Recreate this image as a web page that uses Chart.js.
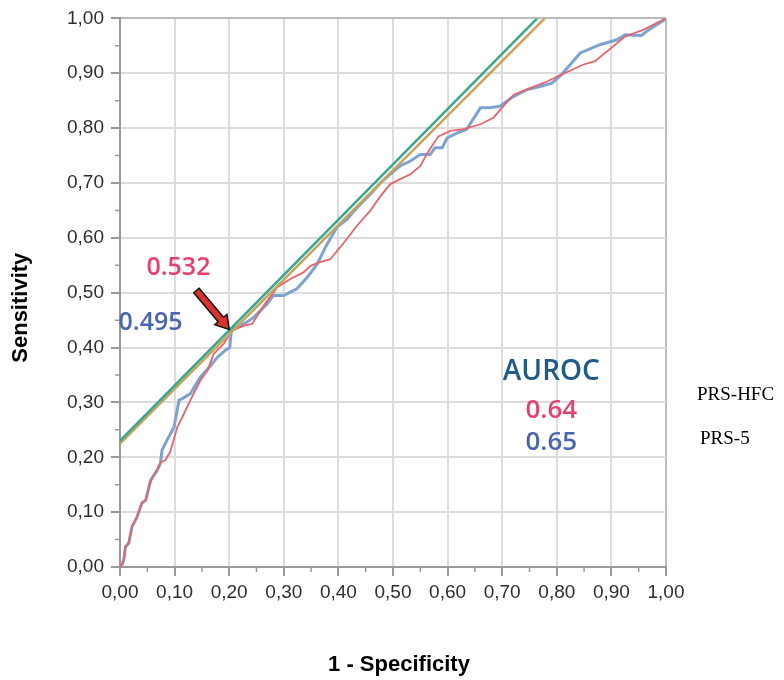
<!DOCTYPE html>
<html>
<head>
<meta charset="utf-8">
<script src="https://cdn.jsdelivr.net/npm/chart.js@4.4.1/dist/chart.umd.min.js"></script>
<style>
  html, body { margin: 0; padding: 0; background: #fff; }
  #wrap { width: 784px; height: 680px; }
</style>
</head>
<body>
<div id="wrap"><canvas id="rocChart" width="784" height="680"></canvas></div>
<script>
// ROC curves (1 - specificity, sensitivity)
var prs5Fpr = [0, 0.004, 0.007, 0.010, 0.016, 0.022, 0.031, 0.040, 0.047, 0.056, 0.068, 0.074, 0.077, 0.086, 0.099, 0.108, 0.114, 0.129, 0.147, 0.166, 0.178, 0.193, 0.201, 0.203, 0.205, 0.227, 0.245, 0.269, 0.281, 0.300, 0.324, 0.343, 0.361, 0.379, 0.397, 0.416, 0.434, 0.458, 0.477, 0.495, 0.513, 0.532, 0.550, 0.568, 0.577, 0.590, 0.599, 0.617, 0.635, 0.660, 0.678, 0.696, 0.721, 0.745, 0.769, 0.791, 0.809, 0.843, 0.879, 0.910, 0.925, 0.955, 0.968, 0.995, 1];
var prs5Tpr = [0, 0.005, 0.013, 0.037, 0.043, 0.073, 0.091, 0.116, 0.122, 0.158, 0.176, 0.189, 0.213, 0.231, 0.255, 0.304, 0.307, 0.316, 0.346, 0.367, 0.382, 0.395, 0.400, 0.422, 0.434, 0.443, 0.455, 0.479, 0.495, 0.495, 0.507, 0.528, 0.552, 0.588, 0.619, 0.634, 0.655, 0.679, 0.700, 0.716, 0.731, 0.740, 0.752, 0.752, 0.764, 0.764, 0.782, 0.791, 0.798, 0.837, 0.837, 0.840, 0.858, 0.870, 0.876, 0.882, 0.898, 0.937, 0.952, 0.961, 0.970, 0.969, 0.979, 0.996, 1];

var hfcFpr = [0, 0.004, 0.007, 0.010, 0.016, 0.022, 0.031, 0.040, 0.047, 0.056, 0.068, 0.074, 0.083, 0.092, 0.105, 0.114, 0.129, 0.147, 0.160, 0.172, 0.190, 0.205, 0.227, 0.242, 0.263, 0.288, 0.312, 0.336, 0.349, 0.364, 0.385, 0.410, 0.434, 0.458, 0.477, 0.495, 0.513, 0.532, 0.550, 0.565, 0.583, 0.605, 0.629, 0.660, 0.684, 0.702, 0.721, 0.751, 0.782, 0.803, 0.849, 0.870, 0.925, 0.958, 1];
var hfcTpr = [0, 0.006, 0.015, 0.036, 0.045, 0.075, 0.090, 0.118, 0.121, 0.156, 0.178, 0.190, 0.195, 0.210, 0.255, 0.273, 0.304, 0.340, 0.358, 0.389, 0.407, 0.431, 0.440, 0.443, 0.476, 0.510, 0.525, 0.537, 0.549, 0.555, 0.561, 0.591, 0.622, 0.649, 0.676, 0.698, 0.707, 0.716, 0.731, 0.758, 0.785, 0.795, 0.798, 0.807, 0.819, 0.840, 0.861, 0.873, 0.885, 0.895, 0.916, 0.922, 0.967, 0.979, 1];

// tangent lines touching the curves at the optimal cut-off
var tangentGreenX = [0, 0.764];
var tangentGreenY = [0.230, 1.0];
var tangentOrangeX = [0, 0.778];
var tangentOrangeY = [0.225, 1.0];

var tickValues = [0, 0.1, 0.2, 0.3, 0.4, 0.5, 0.6, 0.7, 0.8, 0.9, 1.0];

var cutoffHfc = '0.532';
var cutoffPrs5 = '0.495';
var aurocHfc = '0.64';
var aurocPrs5 = '0.65';

function toPoints(xs, ys) {
    return xs.map(function (x, i) { return { x: x, y: ys[i] }; });
}

function fmt(v) {
    return v.toFixed(2).replace('.', ',');
}

var PINK = '#e8406e';
var BLUE_TXT = '#4966b0';

var annotations = {
    id: 'annotations',
    afterDraw: function (chart) {
        var c = chart.ctx, xs = chart.scales.x, ys = chart.scales.y, area = chart.chartArea;
        var px = function (v) { return xs.getPixelForValue(v); };
        var py = function (v) { return ys.getPixelForValue(v); };
        c.save();

        // minor tick marks
        c.strokeStyle = '#999';
        c.lineWidth = 1.5;
        for (var i = 0; i < tickValues.length - 1; i++) {
            var m = (tickValues[i] + tickValues[i + 1]) / 2;
            c.beginPath();
            c.moveTo(px(m), area.bottom);
            c.lineTo(px(m), area.bottom + 5);
            c.moveTo(area.left, py(m));
            c.lineTo(area.left - 5, py(m));
            c.stroke();
        }

        // arrow pointing at the cut-off
        var x1 = px(0.14), y1 = py(0.504), x2 = px(0.2), y2 = py(0.433);
        var ang = Math.atan2(y2 - y1, x2 - x1);
        var len = Math.hypot(x2 - x1, y2 - y1);
        c.translate(x1, y1);
        c.rotate(ang);
        c.beginPath();
        c.moveTo(0, -3.5);
        c.lineTo(len - 13, -3.5);
        c.lineTo(len - 13, -8);
        c.lineTo(len, 0);
        c.lineTo(len - 13, 8);
        c.lineTo(len - 13, 3.5);
        c.lineTo(0, 3.5);
        c.closePath();
        c.fillStyle = '#d9332b';
        c.fill();
        c.strokeStyle = '#111';
        c.lineWidth = 1.5;
        c.stroke();
        c.setTransform(1, 0, 0, 1, 0, 0);

        c.textAlign = 'center';
        c.textBaseline = 'middle';
        c.font = '600 25px "Open Sans"';
        c.fillStyle = PINK;
        c.fillText(cutoffHfc, px(0.107), py(0.545));
        c.fillStyle = BLUE_TXT;
        c.fillText(cutoffPrs5, px(0.056), py(0.445));

        c.font = '600 28px "Open Sans"';
        c.fillStyle = '#1e5a8a';
        c.fillText('AUROC', px(0.79), py(0.355));
        c.font = '600 26px "Open Sans"';
        c.fillStyle = PINK;
        c.fillText(aurocHfc, px(0.79), py(0.285));
        c.fillStyle = BLUE_TXT;
        c.fillText(aurocPrs5, px(0.79), py(0.227));

        c.textAlign = 'left';
        c.fillStyle = '#000';
        c.font = '19px "Liberation Serif"';
        c.fillText('PRS-HFC', area.right + 31, py(0.314));
        c.fillText('PRS-5', area.right + 34, py(0.234));

        // axis titles
        c.font = 'bold 22px "Liberation Sans"';
        c.textAlign = 'center';
        c.fillText('1 - Specificity', (area.left + area.right) / 2 + 6, 665);
        c.translate(21, (area.top + area.bottom) / 2 + 15);
        c.rotate(-Math.PI / 2);
        c.fillText('Sensitivity', 0, 0);
        c.restore();
    }
};

var ctx = document.getElementById('rocChart').getContext('2d');
var rocChart = new Chart(ctx, {
    type: 'scatter',
    data: {
        datasets: [
            { label: 'tangent 1', data: toPoints(tangentGreenX, tangentGreenY), borderColor: '#39a68f', borderWidth: 2.5 },
            { label: 'tangent 2', data: toPoints(tangentOrangeX, tangentOrangeY), borderColor: '#c9a35b', borderWidth: 2.5 },
            { label: 'PRS-HFC', data: toPoints(hfcFpr, hfcTpr), borderColor: '#e8646b', borderWidth: 1.8 },
            { label: 'PRS-5', data: toPoints(prs5Fpr, prs5Tpr), borderColor: '#7ca3d3', borderWidth: 3 }
        ]
    },
    options: {
        responsive: false,
        animation: false,
        showLine: true,
        elements: { point: { radius: 0 }, line: { tension: 0 } },
        layout: { padding: { left: 0, right: 118, top: 17, bottom: 0 } },
        plugins: {
            legend: { display: false },
            tooltip: { enabled: false }
        },
        scales: {
            x: {
                type: 'linear', min: 0, max: 1,
                afterFit: function (s) { s.height = 113; },
                afterBuildTicks: function (s) { s.ticks = tickValues.map(function (v) { return { value: v }; }); },
                ticks: {
                    callback: function (v) { return fmt(v); },
                    color: '#2e2e2e', padding: 5, maxRotation: 0, autoSkip: false,
                    font: { family: 'Liberation Sans', size: 19 }
                },
                grid: {
                    color: function (c) { return c.index === tickValues.length - 1 ? '#bbb' : '#dcdcdc'; },
                    tickColor: '#999', tickLength: 9, lineWidth: 2
                },
                border: { color: '#999', width: 2 }
            },
            y: {
                type: 'linear', min: 0, max: 1,
                afterFit: function (s) { s.width = 120; },
                afterBuildTicks: function (s) { s.ticks = tickValues.map(function (v) { return { value: v }; }); },
                ticks: {
                    callback: function (v) { return fmt(v); },
                    color: '#2e2e2e', padding: 7, autoSkip: false,
                    font: { family: 'Liberation Sans', size: 19 }
                },
                grid: {
                    color: function (c) { return c.index === tickValues.length - 1 ? '#bbb' : '#dcdcdc'; },
                    tickColor: '#999', tickLength: 9, lineWidth: 2
                },
                border: { color: '#999', width: 2 }
            }
        }
    },
    plugins: [annotations]
});
</script>
</body>
</html>
